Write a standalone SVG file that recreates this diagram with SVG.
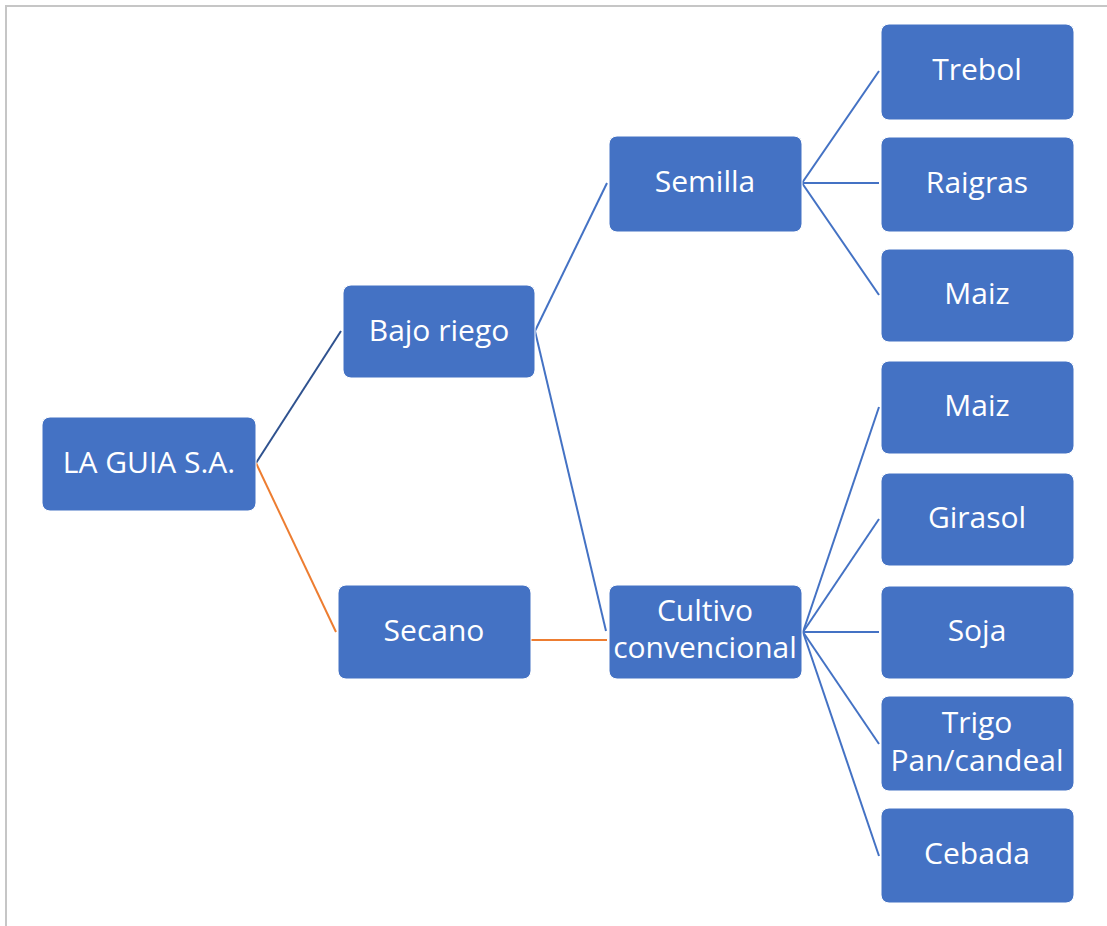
<svg xmlns="http://www.w3.org/2000/svg" width="1107" height="926" viewBox="0 0 1107 926">
<style>
.n rect{fill:#4472C4;stroke:#ffffff;stroke-width:1}
.n text{fill:#ffffff;font-family:"Open Sans","Noto Sans","Liberation Sans",sans-serif;font-size:30px;text-anchor:middle}
.c line{stroke:#4472C4;stroke-width:2;fill:none}
.c line.o{stroke:#ED7D31}
.c line.d{stroke:#2F528F}
</style>
<rect width="1107" height="926" fill="#ffffff"/>
<path d="M6 926 V6 H1107" fill="none" stroke="#c6c6c6" stroke-width="2"/>
<g id="connectors" class="c">
<line class="d" x1="256" y1="463" x2="341" y2="331"/>
<line class="o" x1="256" y1="463" x2="336" y2="632"/>
<line x1="535" y1="331" x2="607" y2="183"/>
<line x1="535" y1="331" x2="606" y2="631"/>
<line class="o" x1="531" y1="640" x2="607" y2="640"/>
<line x1="802" y1="183" x2="879" y2="71"/>
<line x1="802" y1="183" x2="879" y2="183"/>
<line x1="802" y1="183" x2="879" y2="295"/>
<line x1="803" y1="632" x2="879" y2="407"/>
<line x1="803" y1="632" x2="879" y2="519"/>
<line x1="803" y1="632" x2="879" y2="632"/>
<line x1="803" y1="632" x2="879" y2="744"/>
<line x1="803" y1="632" x2="879" y2="856"/>
</g>
<g id="la-guia" class="n"><rect x="42" y="417" width="214" height="94" rx="8"/><text x="149" y="473">LA GUIA S.A.</text></g>
<g id="bajo-riego" class="n"><rect x="343" y="285" width="192" height="93" rx="8"/><text x="439" y="341">Bajo riego</text></g>
<g id="secano" class="n"><rect x="338" y="585" width="193" height="94" rx="8"/><text x="434" y="641">Secano</text></g>
<g id="semilla" class="n"><rect x="609" y="136" width="193" height="96" rx="8"/><text x="705" y="192">Semilla</text></g>
<g id="cultivo" class="n"><rect x="609" y="585" width="193" height="94" rx="8"/><text x="705" y="621">Cultivo</text><text x="705" y="658">convencional</text></g>
<g id="trebol" class="n"><rect x="881" y="24" width="193" height="96" rx="8"/><text x="977" y="80">Trebol</text></g>
<g id="raigras" class="n"><rect x="881" y="137" width="193" height="95" rx="8"/><text x="977" y="193">Raigras</text></g>
<g id="maiz1" class="n"><rect x="881" y="249" width="193" height="93" rx="8"/><text x="977" y="304">Maiz</text></g>
<g id="maiz2" class="n"><rect x="881" y="361" width="193" height="93" rx="8"/><text x="977" y="416">Maiz</text></g>
<g id="girasol" class="n"><rect x="881" y="473" width="193" height="93" rx="8"/><text x="977" y="528">Girasol</text></g>
<g id="soja" class="n"><rect x="881" y="586" width="193" height="93" rx="8"/><text x="977" y="641">Soja</text></g>
<g id="trigo" class="n"><rect x="881" y="696" width="193" height="95" rx="8"/><text x="977" y="733">Trigo</text><text x="977" y="771">Pan/candeal</text></g>
<g id="cebada" class="n"><rect x="881" y="808" width="193" height="95" rx="8"/><text x="977" y="864">Cebada</text></g>
</svg>
